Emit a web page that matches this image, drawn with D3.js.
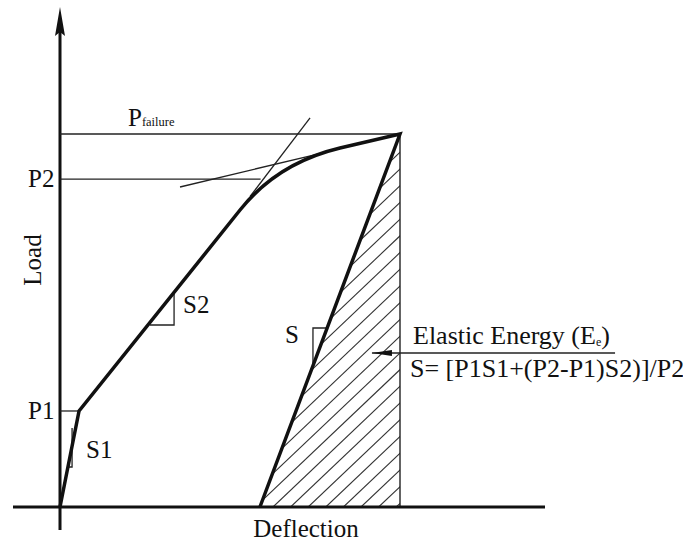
<!DOCTYPE html>
<html>
<head>
<style>
  body { margin: 0; background: #fff; }
  svg text { font-family: "Liberation Serif", "Times New Roman", serif; fill: #111; }
</style>
<script src="https://cdn.jsdelivr.net/npm/d3@7"></script>
</head>
<body>
<div id="chart"></div>
<script>
// load levels (kN)
var P1 = 25.74, P2 = 87.9, Pfailure = 100;

// loading curve: origin, P1 knee, bend (start, corner, end), failure point
var loadStraight = [[0, 0], [1.12, 25.74], [10.59, 79.62]];
var bendCorner = [12.79, 92.23];
var bendEnd = [16.47, 96.25];
var peak = [20, 100];

// unloading line meets deflection axis here
var unloadEnd = 11.76;

// tangent lines for S2 and the post-yield branch
var tangentS2 = [[11.18, 83.24], [14.71, 104.3]];
var tangentTop = [[7.06, 85.79], [15.29, 94.77]];

// slope markers
var markS1 = [[0.43, 10.72], [0.71, 10.72], [0.71, 21.18]];
var markS2 = [[5.29, 48.79], [6.71, 48.79], [6.71, 57.37]];
var markS = [[15.69, 47.99], [14.88, 47.99], [14.88, 38.07]];

// arrow pointing into the hatched area
var energyArrow = [[32.65, 41.29], [18.35, 41.29]];

var W = 683, H = 542;
var x = d3.scaleLinear().domain([0, 20]).range([60, 400]);
var y = d3.scaleLinear().domain([0, 100]).range([507, 134]);

var svg = d3.select("#chart").append("svg")
    .attr("width", W).attr("height", H);

var line = d3.line().x(function(d) { return x(d[0]); }).y(function(d) { return y(d[1]); });

// hatched elastic energy triangle
var tri = [peak, [unloadEnd, 0], [peak[0], 0]];
svg.append("clipPath").attr("id", "triClip")
  .append("path").attr("d", line(tri) + "Z");

var hatch = svg.append("g").attr("clip-path", "url(#triClip)");
var slope = 0.95, gap = 17.6;
d3.range(-16, 9).forEach(function(k) {
  var b = 273 + gap * k;
  hatch.append("line")
    .attr("x1", b).attr("y1", y(0))
    .attr("x2", b + 420).attr("y2", y(0) - 420 * slope)
    .attr("stroke", "#333").attr("stroke-width", 1.1);
});
// right edge of triangle
svg.append("line")
  .attr("x1", x(peak[0])).attr("y1", y(peak[1]))
  .attr("x2", x(peak[0])).attr("y2", y(0))
  .attr("stroke", "#222").attr("stroke-width", 1.4);

// axes
svg.append("line").attr("x1", 13).attr("x2", 545)
  .attr("y1", y(0)).attr("y2", y(0))
  .attr("stroke", "#111").attr("stroke-width", 3);
svg.append("line").attr("x1", x(0)).attr("x2", x(0))
  .attr("y1", 530).attr("y2", 30)
  .attr("stroke", "#111").attr("stroke-width", 3);
svg.append("path")
  .attr("d", "M" + x(0) + ",7 L" + (x(0) + 5) + ",36 L" + x(0) + ",32 L" + (x(0) - 5) + ",36 Z")
  .attr("fill", "#111");

// horizontal load levels
var thin = { stroke: "#222", "stroke-width": 1.3, fill: "none" };
function applyThin(sel) { Object.keys(thin).forEach(function(k) { sel.attr(k, thin[k]); }); return sel; }

applyThin(svg.append("path").attr("d", line([[0, Pfailure], peak])));
applyThin(svg.append("path").attr("d", line([[0, P2], [11.8, P2]])));
applyThin(svg.append("path").attr("d", line([[0, P1], loadStraight[1]])));

// tangents
applyThin(svg.append("path").attr("d", line(tangentS2)));
applyThin(svg.append("path").attr("d", line(tangentTop)));

// slope markers
applyThin(svg.append("path").attr("d", line(markS1)));
applyThin(svg.append("path").attr("d", line(markS2)));
applyThin(svg.append("path").attr("d", line(markS)));

// loading curve
var p = d3.path();
p.moveTo(x(loadStraight[0][0]), y(loadStraight[0][1]));
loadStraight.slice(1).forEach(function(d) { p.lineTo(x(d[0]), y(d[1])); });
p.quadraticCurveTo(x(bendCorner[0]), y(bendCorner[1]), x(bendEnd[0]), y(bendEnd[1]));
p.lineTo(x(peak[0]), y(peak[1]));
p.lineTo(x(unloadEnd), y(0));
svg.append("path").attr("d", p.toString())
  .attr("fill", "none").attr("stroke", "#111")
  .attr("stroke-width", 3.5).attr("stroke-linejoin", "miter");

// arrow
applyThin(svg.append("path").attr("d", line(energyArrow)));
var ax = x(energyArrow[1][0]), ay = y(energyArrow[1][1]);
svg.append("path")
  .attr("d", "M" + ax + "," + ay + " L" + (ax + 20) + "," + (ay - 3) + " L" + (ax + 20) + "," + (ay + 3) + " Z")
  .attr("fill", "#111");

// labels
function label(tx, ty, s, size) {
  return svg.append("text").attr("x", tx).attr("y", ty)
    .attr("font-size", size || 25).text(s);
}
label(28, y(P2) + 8, "P2");
label(28, y(P1) + 8, "P1");
label(86, 458, "S1");
label(183, 313, "S2");
label(285, 343, "S");

var pf = svg.append("text").attr("x", 128).attr("y", 126).attr("font-size", 25);
pf.append("tspan").text("P");
pf.append("tspan").attr("font-size", 12.5).text("failure");

var ee = svg.append("text").attr("x", 413).attr("y", 344).attr("font-size", 26);
ee.append("tspan").text("Elastic Energy (E");
ee.append("tspan").attr("font-size", 12).attr("dy", 2).text("e");
ee.append("tspan").attr("dy", -2).text(")");

label(410, 377, "S= [P1S1+(P2-P1)S2)]/P2", 26);

svg.append("text").attr("x", 306).attr("y", 537)
  .attr("text-anchor", "middle").attr("font-size", 25).text("Deflection");

svg.append("text")
  .attr("transform", "translate(41,260) rotate(-90)")
  .attr("text-anchor", "middle").attr("font-size", 25).text("Load");
</script>
</body>
</html>
